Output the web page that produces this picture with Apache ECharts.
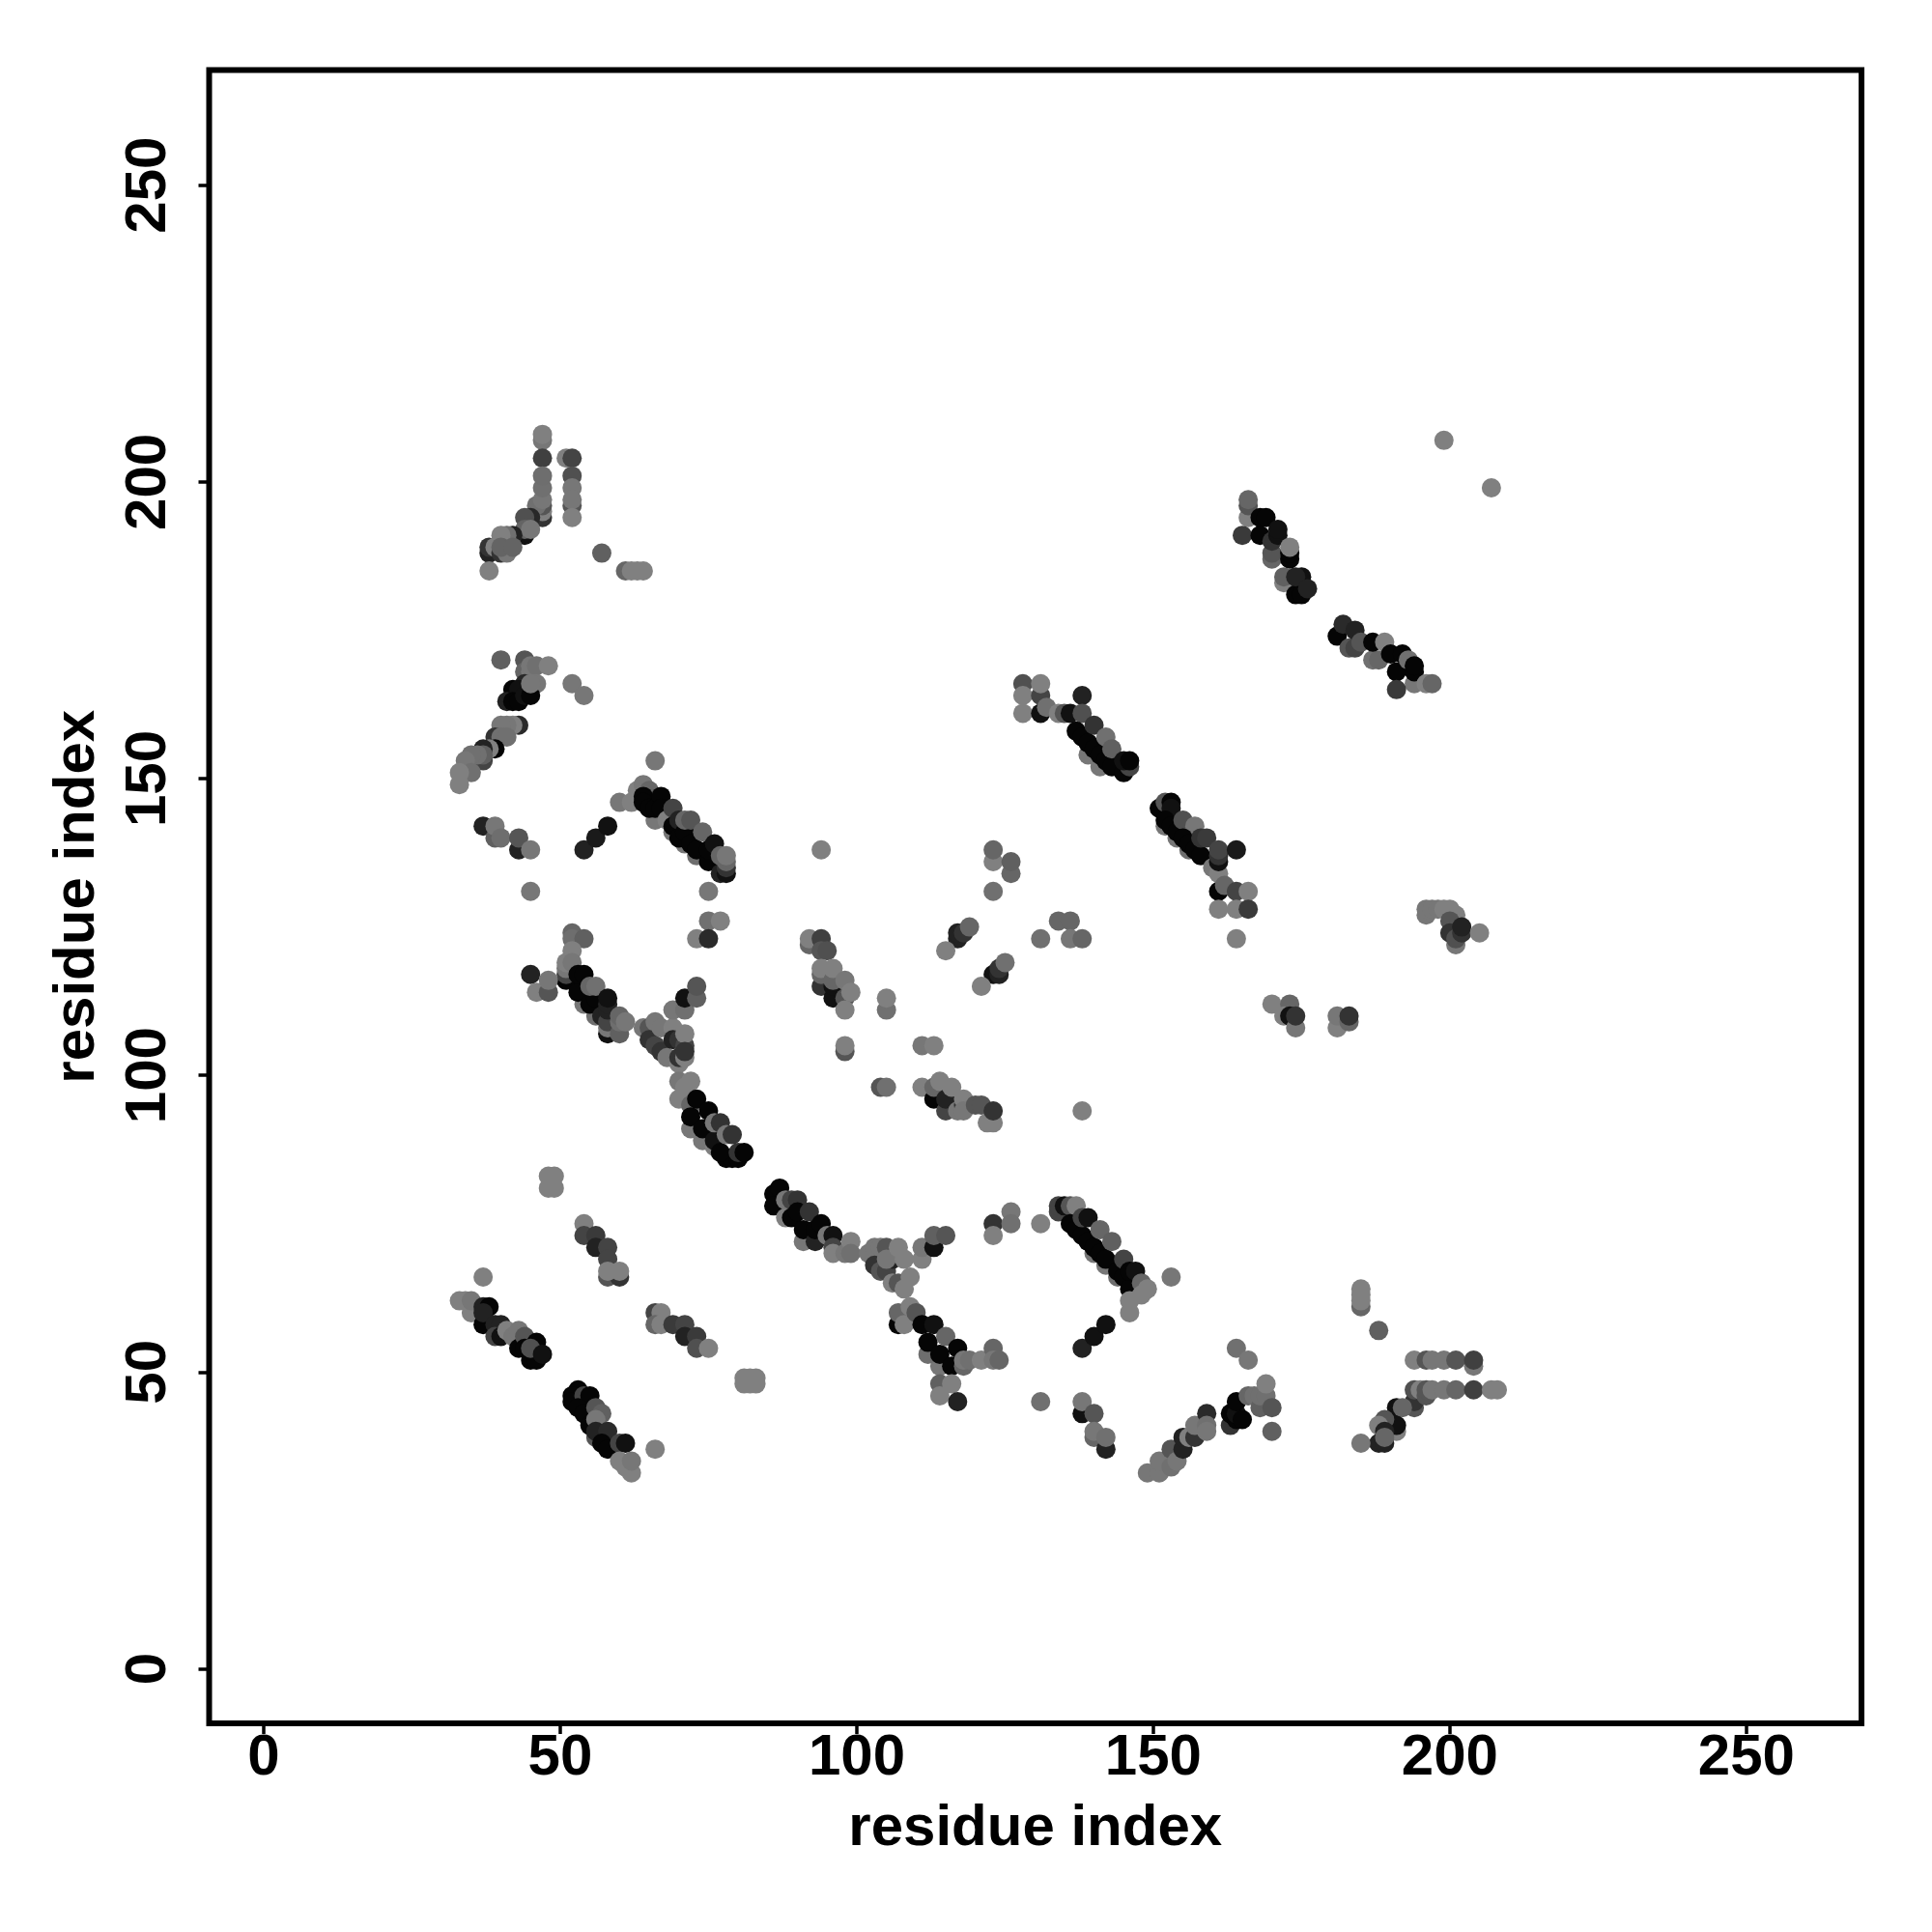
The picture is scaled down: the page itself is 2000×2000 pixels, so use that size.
<!DOCTYPE html>
<html><head><meta charset="utf-8">
<script src="https://cdn.jsdelivr.net/npm/echarts@6/dist/echarts.min.js"></script>
<style>html,body{margin:0;background:#fff}#c{width:2000px;height:2000px}</style></head>
<body><div id="c"></div>
<script>
const tickValues=[0,50,100,150,200,250];
const axisTitle="residue index";
// each contact: [residue x, residue y, grey level]
const bandUnderlay=[[66,143,119],[69,141,119],[71,139,119],[73,137,110],[140,70,119],[142,68,119],[144,66,110],[139,154,119],[141,152,119],[152,142,119],[154,140,119],[156,138,110],[54,112,119],[56,110,110],[72,91,119],[74,89,119],[91,72,119],[114,51,119],[112,53,110]];
const upperLeftA=[[47,207,119],[47,208,128],[47,204,64],[51,204,128],[52,204,68],[47,194,51],[47,195,128],[47,196,85],[46,196,112],[47,197,119],[47,199,112],[47,201,110],[52,201,80],[52,199,119],[52,196,85],[52,197,119],[52,194,128],[45,194,40],[44,194,80],[44,191,17],[44,192,100],[45,192,119],[42,191,34],[41,191,112],[40,191,128],[38,188,34],[38,189,51],[39,189,128],[40,188,51],[41,188,119],[40,189,100],[42,189,100],[38,185,128],[57,188,96],[61,185,102],[62,185,128],[63,185,128],[64,185,128]];
const upperLeftB=[[40,170,96],[44,170,85],[44,168,100],[45,168,119],[45,169,119],[46,169,112],[48,169,128],[46,166,119],[52,166,119],[54,164,119],[44,166,40],[42,165,5],[43,165,17],[41,163,34],[42,163,5],[43,163,5],[44,164,17],[45,164,5],[45,166,119],[43,159,42],[42,159,128],[41,159,119],[40,159,119],[39,157,51],[40,157,112],[41,157,112],[39,155,5],[38,155,128],[37,155,34],[37,153,68],[37,154,96],[36,154,112],[35,154,112],[34,153,119],[35,151,112],[33,151,128],[33,149,128]];
const helixA=[[60,146,119],[62,146,128],[63,148,128],[64,149,119],[65,148,102],[64,147,5],[64,146,5],[65,145,5],[66,145,5],[67,147,5],[67,145,5],[68,143,128],[69,145,68],[69,142,5],[70,140,5],[70,143,34],[71,141,5],[71,143,102],[72,139,5],[72,143,85],[73,138,5],[74,141,102],[75,136,5],[75,138,5],[76,139,17],[77,134,34],[78,134,17],[78,135,51],[78,136,102],[77,137,102],[78,137,119]];
const leftSmall=[[37,142,34],[39,140,96],[39,142,119],[40,140,110],[43,138,34],[43,140,85],[45,138,119],[45,131,119],[54,138,34],[56,140,26],[58,142,17],[66,153,119],[75,131,119],[75,126,112],[77,126,128],[73,123,128],[75,123,42]];
const helixB=[[52,124,102],[52,123,110],[54,123,96],[52,121,128],[51,116,5],[51,117,68],[51,118,119],[51,119,128],[52,119,119],[45,117,34],[46,114,128],[48,114,85],[48,116,119],[53,114,5],[53,117,5],[54,117,5],[55,112,5],[56,113,5],[55,115,102],[56,115,112],[57,110,34],[58,107,17],[58,108,119],[58,109,68],[58,111,34],[58,112,34],[58,113,17],[60,107,96],[60,109,110],[60,110,102],[61,109,119]];
const helixC=[[64,108,119],[65,108,85],[66,109,119],[65,106,51],[66,105,68],[67,104,51],[67,108,119],[68,103,119],[69,108,128],[69,106,34],[70,106,51],[70,102,128],[70,103,51],[71,105,68],[71,103,128],[71,107,128],[71,104,51],[69,111,119],[71,111,112],[71,113,17],[73,113,96],[73,115,85],[70,99,119],[71,96,68],[70,96,128],[72,99,128],[71,98,128]];
const helixD=[[72,95,102],[72,93,5],[73,96,5],[74,91,5],[75,94,5],[76,88,128],[76,89,17],[76,92,119],[77,92,51],[78,86,5],[79,86,5],[77,87,5],[78,90,119],[79,90,51],[80,86,5],[80,87,51],[81,87,5]];
const helixE=[[86,80,5],[86,78,5],[87,81,5],[88,76,128],[88,79,119],[89,76,5],[89,79,68],[90,79,51],[90,77,5],[91,74,5],[92,77,51],[93,72,34],[93,74,5],[94,75,5],[95,73,119],[96,73,17],[96,71,68],[96,70,128],[98,70,119],[99,72,128],[99,70,112]];
const lowerLeft=[[37,66,128],[33,62,128],[34,62,128],[35,60,128],[35,62,119],[37,61,34],[38,61,5],[37,58,5],[37,60,34],[39,58,34],[40,58,34],[39,56,68],[40,56,17],[41,57,128],[42,56,119],[43,57,119],[43,54,5],[44,56,85],[44,54,5],[45,52,5],[46,52,5],[46,55,5],[45,54,80],[47,53,17]];
const lowerMid=[[48,83,128],[49,83,128],[48,81,128],[49,81,128],[54,75,128],[54,73,68],[56,73,58],[56,71,34],[58,71,68],[58,69,68],[58,66,85],[60,66,51],[58,67,128],[60,67,128],[66,60,68],[67,60,128],[66,58,102],[67,58,128],[69,58,58],[71,58,68],[71,56,34],[73,56,58],[73,54,80],[75,54,128],[81,49,128],[82,49,128],[83,49,128],[81,48,128],[82,48,128],[83,48,128]];
const lowerBand=[[53,47,5],[52,46,5],[52,45,5],[54,46,68],[55,46,5],[53,44,5],[54,43,5],[56,44,85],[57,43,96],[55,41,5],[56,42,119],[56,39,85],[56,40,34],[58,40,42],[57,38,5],[58,37,5],[60,38,68],[61,38,17],[60,35,128],[61,34,128],[62,33,128],[62,35,119],[66,37,128]];
const midCluster=[[92,122,102],[92,123,128],[94,123,64],[94,121,85],[95,121,80],[94,115,51],[94,117,102],[94,118,128],[96,113,17],[96,115,17],[96,116,102],[96,118,128],[98,113,85],[98,111,128],[98,116,119],[99,114,128],[105,111,112],[105,113,128],[98,104,85],[98,105,128],[111,105,119],[113,105,128],[94,138,128]];
const centerA=[[104,98,85],[105,98,112],[111,98,128],[113,96,5],[113,98,102],[114,99,128],[115,94,68],[115,96,34],[116,98,128],[117,94,119],[118,95,51],[118,96,128],[118,94,119],[120,95,85],[121,95,85],[122,92,128],[123,92,128],[123,94,51],[138,94,128]];
const centerB=[[123,136,128],[123,138,102],[126,134,102],[126,136,96],[123,131,112],[117,123,34],[117,124,34],[118,124,51],[119,125,102],[115,121,128],[123,117,17],[124,117,34],[124,118,51],[125,119,112],[121,115,128],[134,126,102],[136,126,102],[131,123,112],[136,123,119],[138,123,102]];
const junction=[[102,70,119],[103,71,119],[104,71,119],[103,68,51],[104,67,85],[105,71,85],[105,67,68],[106,69,34],[105,69,119],[106,65,128],[107,65,85],[107,71,128],[108,69,128],[108,64,128],[109,66,128],[111,69,128],[111,71,119],[113,71,17],[113,73,96],[115,73,85]];
const helixF=[[107,58,5],[107,60,102],[108,58,128],[109,61,128],[110,60,85],[111,58,5],[112,55,5],[113,58,17],[114,53,5],[115,56,102],[116,51,5],[117,54,5],[118,51,102],[118,52,119],[119,52,112],[121,52,128],[123,54,102],[123,52,119],[124,52,102],[114,48,96],[116,48,128],[114,46,128],[117,45,34],[131,45,112]];
const helixG=[[123,75,51],[123,73,128],[126,77,119],[126,75,112],[131,75,128],[134,77,68],[134,78,68],[135,78,17],[136,78,85],[137,78,128],[136,75,5],[137,74,5],[138,73,5],[138,76,68],[139,76,17],[139,72,5],[140,71,5],[141,74,102],[141,70,5],[142,69,5],[143,72,96],[144,67,5],[145,66,5],[145,69,68],[146,64,5],[146,67,5],[147,67,17],[148,65,102],[146,62,128],[146,60,128],[148,63,128],[149,64,128],[153,66,119],[138,54,34],[140,56,17],[142,58,17],[138,43,17],[138,45,119],[140,43,85],[140,39,102],[140,40,119],[142,37,34],[142,39,112]];
const upperRightA=[[128,166,80],[128,164,128],[128,161,128],[131,164,68],[131,166,128],[131,161,17],[132,162,112],[138,164,34],[134,161,128],[135,161,85],[136,161,17],[138,161,80],[137,158,5],[138,157,5],[140,159,51],[139,156,5],[140,155,5],[141,154,5],[142,157,112],[142,153,5],[143,152,5],[143,155,96],[145,151,5],[146,152,68],[145,153,17],[146,153,5]];
const upperRightB=[[151,145,5],[152,146,85],[153,146,5],[153,145,17],[152,143,5],[153,142,5],[154,141,5],[155,143,80],[157,142,119],[155,140,5],[156,139,5],[157,138,5],[158,137,5],[158,140,51],[159,140,58],[160,135,119],[161,134,128],[161,136,17],[161,137,51],[161,138,68],[164,138,26],[161,131,5],[162,132,102],[164,131,68],[166,131,128],[161,128,128],[164,128,128],[166,128,58],[164,123,128]];
const upperRightC=[[166,194,128],[166,196,85],[166,197,102],[165,191,58],[168,191,5],[168,194,5],[169,194,5],[170,187,102],[170,188,85],[170,190,51],[171,191,17],[171,192,17],[173,187,5],[173,188,5],[173,189,128],[172,183,128],[172,184,96],[174,181,5],[175,181,5],[175,184,17],[174,184,34],[176,182,34]];
const upperRightD=[[181,174,5],[182,176,42],[183,172,85],[184,172,68],[184,175,34],[185,173,85],[187,170,112],[188,170,102],[187,173,5],[189,173,128],[190,171,5],[191,168,5],[192,171,5],[193,170,112],[194,166,119],[194,168,5],[194,169,5],[196,166,128],[197,166,102],[191,165,58],[199,207,128],[207,199,128]];
const rightMid=[[170,112,128],[173,112,102],[172,110,128],[173,110,17],[174,108,119],[174,110,51],[181,108,128],[181,110,119],[183,109,102],[183,110,51],[196,127,119],[196,128,119],[197,128,119],[198,128,119],[199,128,128],[200,128,128],[201,127,128],[200,126,85],[200,124,51],[201,122,119],[201,123,80],[202,124,51],[202,125,34],[205,124,128]];
const lowerRightA=[[149,33,119],[151,33,119],[151,35,119],[153,37,85],[153,34,112],[154,35,119],[155,37,34],[155,39,34],[156,39,128],[157,39,51],[157,41,119],[159,43,42],[159,41,112],[159,40,119],[163,41,51],[163,43,5],[164,42,5],[164,43,17],[164,45,5],[165,42,5],[166,46,102],[164,54,112],[166,52,119],[167,46,112],[168,44,96],[168,46,112],[169,46,112],[169,48,128],[170,44,85],[170,40,96]];
const lowerRightB=[[185,61,102],[185,62,128],[185,63,128],[185,64,128],[188,57,96],[194,52,128],[196,52,85],[197,52,119],[199,52,119],[201,52,85],[204,51,119],[204,52,64],[194,44,85],[194,45,51],[194,47,80],[195,47,128],[196,46,85],[196,47,85],[197,47,119],[199,47,119],[201,47,102],[204,47,64],[207,47,128],[208,47,128],[191,44,17],[192,44,102],[191,40,128],[191,41,17],[189,42,85],[188,41,128],[189,40,34],[188,38,34],[189,38,34],[189,39,102],[185,38,119]];

const contacts=[].concat(bandUnderlay,upperLeftA,upperLeftB,helixA,leftSmall,helixB,helixC,helixD,helixE,lowerLeft,lowerMid,lowerBand,midCluster,centerA,centerB,junction,helixF,helixG,upperRightA,upperRightB,upperRightC,upperRightD,rightMid,lowerRightA,lowerRightB);
const grey=v=>`rgb(${v},${v},${v})`;
const textStyle={fontFamily:'"Liberation Sans"',fontWeight:'bold',fontSize:60,color:'#000'};
const makeAxis=(extra)=>Object.assign({type:'value',min:-9.2,max:269.4,splitLine:{show:false},axisLine:{show:false,onZero:false},
  axisTick:{show:true,length:11,customValues:tickValues,lineStyle:{color:'#000',width:3.5}},
  name:axisTitle,nameLocation:'middle',nameMoveOverlap:false,nameTextStyle:textStyle},extra);
const chart=echarts.init(document.getElementById('c'),null,{renderer:'canvas'});
chart.setOption({animation:false,backgroundColor:'#fff',
 grid:{left:216.5,top:72.5,width:1710.5,height:1711.5,show:true,borderColor:'#000',borderWidth:6,backgroundColor:'transparent'},
 xAxis:makeAxis({nameGap:79,axisLabel:Object.assign({margin:6,customValues:tickValues},textStyle)}),
 yAxis:makeAxis({nameGap:106,axisLabel:Object.assign({margin:32,rotate:90,customValues:tickValues,align:'center',verticalAlign:'bottom'},textStyle)}),
 series:[{type:'scatter',symbolSize:20,data:contacts,encode:{x:0,y:1},itemStyle:{color:p=>grey(p.value[2]),opacity:1},z:1}]
});
</script></body></html>
